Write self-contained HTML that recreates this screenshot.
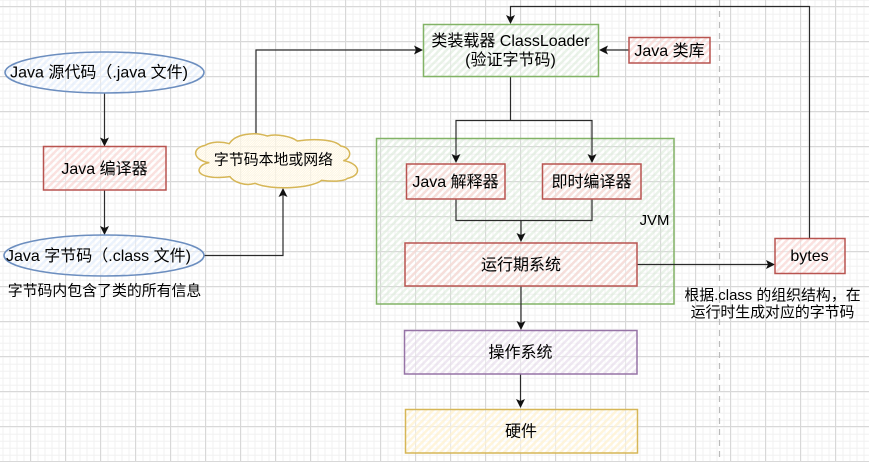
<!DOCTYPE html>
<html><head><meta charset="utf-8"><style>
html,body{margin:0;padding:0;background:#fff;width:869px;height:462px;overflow:hidden}
svg{display:block}
text{font-family:"Liberation Sans","Noto Sans CJK SC",sans-serif;font-size:16px;fill:#000;text-anchor:middle}
text.s{font-size:14.9px}
.l{fill:none;stroke:#2a2a2a;stroke-width:1.2}
.a{fill:#111;stroke:none}
.w{fill:#fff;opacity:.45}
</style></head><body>
<svg width="869" height="462" viewBox="0 0 869 462" xmlns="http://www.w3.org/2000/svg">
<defs>
<pattern id="gmin" width="7" height="7" patternUnits="userSpaceOnUse" patternTransform="translate(2.5,-0.3)">
<path d="M0.5 0V7M0 0.5H7" fill="none" stroke="#f1f1f1" stroke-width="1"/>
</pattern>
<pattern id="gmaj" width="35" height="35" patternUnits="userSpaceOnUse" patternTransform="translate(30,6)">
<path d="M0.5 0V35M0 0.5H35" fill="none" stroke="#d8d8d8" stroke-width="1"/>
</pattern>
<pattern id="hb" width="5" height="5" patternUnits="userSpaceOnUse" patternTransform="rotate(45)"><rect width="2.5" height="5" fill="#dae8fc" opacity=".5"/></pattern>
<pattern id="hr" width="5" height="5" patternUnits="userSpaceOnUse" patternTransform="rotate(45)"><rect width="2.5" height="5" fill="#f8cecc" opacity=".6"/></pattern>
<pattern id="hg" width="5" height="5" patternUnits="userSpaceOnUse" patternTransform="rotate(45)"><rect width="2.5" height="5" fill="#d5e8d4" opacity=".5"/></pattern>
<pattern id="hp" width="5" height="5" patternUnits="userSpaceOnUse" patternTransform="rotate(45)"><rect width="2.5" height="5" fill="#e1d5e7" opacity=".55"/></pattern>
<pattern id="hy" width="5" height="5" patternUnits="userSpaceOnUse" patternTransform="rotate(45)"><rect width="2.5" height="5" fill="#fff2cc" opacity=".7"/></pattern>
</defs>
<rect width="869" height="462" fill="#fff"/>
<rect width="869" height="462" fill="url(#gmin)"/>
<rect width="869" height="462" fill="url(#gmaj)"/>
<path d="M719.5 0V462" stroke="#bbb" stroke-width="1.2" stroke-dasharray="6 5" fill="none"/>

<!-- JVM container -->
<rect x="376.5" y="138.5" width="297.5" height="165.5" fill="url(#hg)" stroke="#82b366" stroke-width="1.5"/>

<!-- connectors -->
<path class="l" d="M104.5 93V140M104.5 190V229"/>
<path class="a" d="M104.5 146.5L100 137.5L104.5 139.5L109 137.5Z"/>
<path class="a" d="M104.5 235L100 226L104.5 228L109 226Z"/>
<path class="l" d="M204 255.5H283V194"/>
<path class="a" d="M283 188L287.5 197L283 195L278.5 197Z"/>
<path class="l" d="M256 134V50H417"/>
<path class="a" d="M423 50L414 45.5L416 50L414 54.5Z"/>
<path class="l" d="M629 50H605"/>
<path class="a" d="M599 50L608 45.5L606 50L608 54.5Z"/>
<path class="l" d="M809.5 238V6.5H510.5V18"/>
<path class="a" d="M510.5 24L506 15L510.5 17L515 15Z"/>
<path class="l" d="M510.5 76V120.5M456 157V120.5H592V157"/>
<path class="a" d="M456 163L451.5 154L456 156L460.5 154Z"/>
<path class="a" d="M592 163L587.5 154L592 156L596.5 154Z"/>
<path class="l" d="M456 199V220.5H592V199M521 220.5V236"/>
<path class="a" d="M521 242L516.5 233L521 235L525.5 233Z"/>
<path class="l" d="M637 264.5H769"/>
<path class="a" d="M775 264.5L766 260L768 264.5L766 269Z"/>
<path class="l" d="M521 286V324"/>
<path class="a" d="M521 330L516.5 321L521 323L525.5 321Z"/>
<path class="l" d="M520.5 374V402"/>
<path class="a" d="M520.5 408L516 399L520.5 401L525 399Z"/>

<!-- left column -->
<ellipse class="w" cx="104.5" cy="72.5" rx="99.5" ry="20.5"/>
<ellipse cx="104.5" cy="72.5" rx="99.5" ry="20.5" fill="url(#hb)" stroke="#6c8ebf" stroke-width="1.6"/>
<text x="99" y="77.5">Java 源代码（.java 文件)</text>
<rect class="w" x="43.5" y="146.5" width="122.5" height="43.5"/>
<rect x="43.5" y="146.5" width="122.5" height="43.5" fill="url(#hr)" stroke="#b85450" stroke-width="1.5"/>
<text x="104.5" y="174">Java 编译器</text>
<ellipse class="w" cx="104" cy="255.5" rx="100" ry="20.5"/>
<ellipse cx="104" cy="255.5" rx="100" ry="20.5" fill="url(#hb)" stroke="#6c8ebf" stroke-width="1.6"/>
<text x="98.5" y="261">Java 字节码（.class 文件)</text>
<text class="s" x="104.5" y="295.5">字节码内包含了类的所有信息</text>

<!-- cloud -->
<g transform="translate(180,120) scale(.33333)">
<path d="M88 128C40 122 32 85 75 76C95 64 125 64 148 71C165 42 222 34 262 48C290 40 335 50 352 63C400 55 465 58 482 78C515 82 518 115 490 122C540 130 548 165 503 175C490 185 455 185 425 181C395 205 275 212 225 190C195 200 160 185 150 170C90 178 45 165 60 143C65 135 75 130 88 128Z" fill="#fff" opacity=".6"/>
<path d="M88 128C40 122 32 85 75 76C95 64 125 64 148 71C165 42 222 34 262 48C290 40 335 50 352 63C400 55 465 58 482 78C515 82 518 115 490 122C540 130 548 165 503 175C490 185 455 185 425 181C395 205 275 212 225 190C195 200 160 185 150 170C90 178 45 165 60 143C65 135 75 130 88 128Z" fill="url(#hy)" stroke="#d6b656" stroke-width="4.5"/>
</g>
<text class="s" x="273.5" y="164.5">字节码本地或网络</text>

<!-- top -->
<rect class="w" x="423.5" y="24.5" width="175" height="52"/>
<rect x="423.5" y="24.5" width="175" height="52" fill="url(#hg)" stroke="#82b366" stroke-width="1.5"/>
<text x="510.5" y="46">类装载器 ClassLoader</text>
<text x="510.5" y="65">(验证字节码)</text>
<rect class="w" x="629" y="37.5" width="81" height="25.5"/>
<rect x="629" y="37.5" width="81" height="25.5" fill="url(#hr)" stroke="#b85450" stroke-width="1.5"/>
<text x="669.5" y="56">Java 类库</text>

<!-- inside JVM -->
<rect class="w" x="406.5" y="164" width="98.5" height="35"/>
<rect x="406.5" y="164" width="98.5" height="35" fill="url(#hr)" stroke="#b85450" stroke-width="1.5"/>
<text x="455.5" y="187">Java 解释器</text>
<rect class="w" x="542.5" y="164" width="98.5" height="35"/>
<rect x="542.5" y="164" width="98.5" height="35" fill="url(#hr)" stroke="#b85450" stroke-width="1.5"/>
<text x="591.5" y="187">即时编译器</text>
<text class="s" x="654.5" y="225">JVM</text>
<rect class="w" x="405" y="243" width="232" height="43"/>
<rect x="405" y="243" width="232" height="43" fill="url(#hr)" stroke="#b85450" stroke-width="1.5"/>
<text x="521" y="270">运行期系统</text>

<!-- bytes -->
<rect class="w" x="775" y="238.5" width="70" height="35"/>
<rect x="775" y="238.5" width="70" height="35" fill="url(#hr)" stroke="#b85450" stroke-width="1.5"/>
<text x="809.5" y="261">bytes</text>
<text class="s" x="772.5" y="300">根据.class 的组织结构，在</text>
<text class="s" x="772.5" y="317">运行时生成对应的字节码</text>

<!-- bottom -->
<rect class="w" x="404.5" y="330.5" width="232.5" height="43.5"/>
<rect x="404.5" y="330.5" width="232.5" height="43.5" fill="url(#hp)" stroke="#9673a6" stroke-width="1.5"/>
<text x="520.5" y="357.5">操作系统</text>
<rect class="w" x="405.5" y="409.5" width="232" height="43.5"/>
<rect x="405.5" y="409.5" width="232" height="43.5" fill="url(#hy)" stroke="#d6b656" stroke-width="1.5"/>
<text x="521" y="436.5">硬件</text>
</svg>
</body></html>
